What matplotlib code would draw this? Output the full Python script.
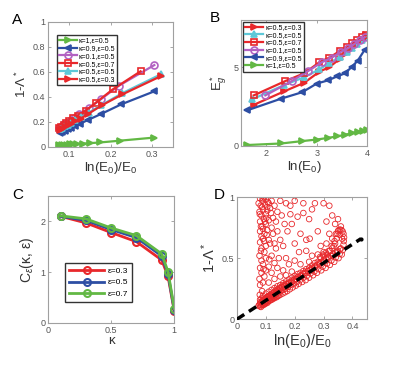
import matplotlib
matplotlib.use('Agg')
import matplotlib.pyplot as plt

plt.rcParams['font.family'] = ['Liberation Sans', 'DejaVu Sans']
plt.rcParams['mathtext.fontset'] = 'custom'
plt.rcParams['mathtext.rm'] = 'Liberation Sans'
plt.rcParams['mathtext.it'] = 'Liberation Sans:italic'

# ---- panel A: 1-Lambda* vs ln(E0)/E0
a_labels = ['κ=1,ε=0.5', 'κ=0.9,ε=0.5', 'κ=0.1,ε=0.5', 'κ=0.5,ε=0.7', 'κ=0.5,ε=0.5', 'κ=0.5,ε=0.3']
a_x = [
    [0.077, 0.083, 0.089, 0.095, 0.102, 0.11, 0.12, 0.133, 0.15, 0.175, 0.222, 0.305],
    [0.078, 0.084, 0.09, 0.097, 0.105, 0.115, 0.127, 0.145, 0.178, 0.225, 0.305],
    [0.077, 0.083, 0.089, 0.096, 0.104, 0.113, 0.125, 0.148, 0.178, 0.22, 0.305],
    [0.077, 0.082, 0.088, 0.094, 0.101, 0.11, 0.121, 0.14, 0.165, 0.205, 0.272],
    [0.078, 0.084, 0.09, 0.097, 0.105, 0.115, 0.128, 0.148, 0.178, 0.228, 0.32],
    [0.078, 0.084, 0.09, 0.097, 0.105, 0.115, 0.128, 0.145, 0.18, 0.228, 0.32],
]
a_y = [
    [0.015, 0.016, 0.017, 0.018, 0.02, 0.022, 0.024, 0.027, 0.03, 0.036, 0.05, 0.075],
    [0.114, 0.123, 0.131, 0.141, 0.153, 0.168, 0.186, 0.215, 0.265, 0.34, 0.445],
    [0.15, 0.165, 0.18, 0.195, 0.215, 0.235, 0.265, 0.31, 0.385, 0.49, 0.655],
    [0.15, 0.162, 0.176, 0.19, 0.206, 0.228, 0.25, 0.29, 0.355, 0.46, 0.605],
    [0.14, 0.152, 0.164, 0.178, 0.193, 0.212, 0.236, 0.275, 0.335, 0.43, 0.58],
    [0.135, 0.147, 0.159, 0.172, 0.186, 0.204, 0.227, 0.262, 0.335, 0.42, 0.565],
]

# ---- panel B: Eg* vs ln(E0)
b_labels = ['κ=0.5,ε=0.3', 'κ=0.5,ε=0.5', 'κ=0.5,ε=0.7', 'κ=0.1,ε=0.5', 'κ=0.9,ε=0.5', 'κ=1,ε=0.5']
b_x = [
    [1.75, 2.35, 2.75, 3.05, 3.25, 3.45, 3.6, 3.7, 3.8, 3.9, 3.97],
    [1.72, 2.35, 2.75, 3.05, 3.25, 3.45, 3.6, 3.7, 3.8, 3.9, 3.97],
    [1.75, 2.37, 2.75, 3.05, 3.25, 3.45, 3.6, 3.7, 3.8, 3.9, 3.97],
    [1.98, 2.5, 2.83, 3.1, 3.3, 3.47, 3.62, 3.74, 3.85, 3.95],
    [1.62, 2.3, 2.71, 3.0, 3.22, 3.4, 3.56, 3.69, 3.81, 3.95],
    [1.62, 2.3, 2.71, 3.0, 3.22, 3.4, 3.56, 3.69, 3.81, 3.91, 3.99],
]
b_y = [
    [2.6, 3.45, 4.0, 4.7, 5.0, 5.5, 5.9, 6.2, 6.5, 6.8, 7.0],
    [2.95, 3.85, 4.35, 4.85, 5.25, 5.65, 5.95, 6.2, 6.45, 6.7, 6.9],
    [3.2, 4.1, 4.6, 5.3, 5.6, 6.0, 6.3, 6.5, 6.7, 6.9, 7.0],
    [3.2, 4.1, 4.75, 5.3, 5.6, 5.95, 6.2, 6.45, 6.7, 6.9],
    [2.25, 3.0, 3.4, 3.95, 4.15, 4.4, 4.6, 5.0, 5.4, 6.1],
    [0.05, 0.15, 0.3, 0.4, 0.5, 0.6, 0.7, 0.8, 0.9, 0.95, 1.0],
]

# ---- panel C
kappa = [0.1, 0.3, 0.5, 0.7, 0.9, 0.95, 1.0]
c_labels = ['ε=0.3', 'ε=0.5', 'ε=0.7']
c_vals = [
    [2.1, 1.97, 1.78, 1.6, 1.24, 0.92, 0.23],
    [2.1, 2.02, 1.84, 1.68, 1.32, 0.97, 0.25],
    [2.11, 2.05, 1.87, 1.72, 1.36, 1.01, 0.28],
]

# ---- panel D: scattered points
d_x = [0.075, 0.078, 0.080, 0.082, 0.085, 0.086, 0.088, 0.090, 0.092, 0.094, 0.095, 0.097, 0.099, 0.100, 0.102, 0.104,
       0.105, 0.107, 0.109, 0.110, 0.112, 0.114, 0.116, 0.118, 0.12, 0.122, 0.124, 0.126, 0.128, 0.13, 0.132, 0.134,
       0.136, 0.138, 0.14, 0.143, 0.145, 0.147, 0.15, 0.152, 0.155, 0.158, 0.16, 0.163, 0.166, 0.168, 0.171, 0.174,
       0.177, 0.18, 0.183, 0.186, 0.19, 0.193, 0.196, 0.2, 0.204, 0.207, 0.21, 0.214, 0.218, 0.222, 0.226, 0.23,
       0.234, 0.238, 0.242, 0.246, 0.25, 0.255, 0.26, 0.264, 0.268, 0.272, 0.277, 0.282, 0.287, 0.292, 0.297, 0.302,
       0.307, 0.312, 0.317, 0.322, 0.327, 0.332, 0.337, 0.342, 0.347, 0.352, 0.356, 0.36, 0.363, 0.366, 0.369, 0.37,
       0.371, 0.369, 0.366, 0.362, 0.357, 0.352, 0.348, 0.345, 0.34, 0.335, 0.33, 0.322, 0.312, 0.3, 0.29, 0.28,
       0.27, 0.26, 0.25, 0.24, 0.23, 0.22, 0.21, 0.2, 0.19, 0.18, 0.17, 0.16, 0.15, 0.14, 0.13, 0.12,
       0.11, 0.1, 0.09, 0.085, 0.08, 0.083, 0.091, 0.098, 0.106, 0.113, 0.121, 0.128, 0.137, 0.144, 0.079, 0.087,
       0.081, 0.089, 0.096, 0.103, 0.111, 0.119, 0.127, 0.135, 0.142, 0.149, 0.157, 0.165, 0.173, 0.181, 0.189, 0.197,
       0.205, 0.213, 0.221, 0.229, 0.237, 0.245, 0.253, 0.261, 0.269, 0.277, 0.285, 0.293, 0.301, 0.309, 0.317, 0.325,
       0.333, 0.341, 0.349, 0.357, 0.364, 0.356, 0.35, 0.343, 0.338, 0.328, 0.318, 0.308, 0.298, 0.288,
       # left column
       0.08, 0.09, 0.078, 0.095, 0.085, 0.1, 0.08, 0.09, 0.11, 0.085, 0.1, 0.078, 0.095, 0.12, 0.085, 0.1,
       0.08, 0.09, 0.11, 0.13, 0.095, 0.08, 0.105, 0.12, 0.088, 0.1, 0.08, 0.093, 0.11, 0.125, 0.085, 0.1,
       0.078, 0.09, 0.105, 0.115, 0.082, 0.097, 0.11, 0.088, 0.1, 0.08, 0.093, 0.12, 0.13, 0.14, 0.135, 0.125,
       0.14, 0.135, 0.13, 0.12, 0.14, 0.11, 0.13, 0.115, 0.085, 0.105, 0.075, 0.118, 0.09, 0.102, 0.083, 0.112,
       0.092, 0.087, 0.097, 0.083, 0.107, 0.079, 0.094, 0.089, 0.103,
       # interior
       0.15, 0.16, 0.145, 0.175, 0.19, 0.21, 0.185, 0.23, 0.26, 0.25, 0.215, 0.24, 0.252, 0.2, 0.17, 0.18,
       0.16, 0.2, 0.28, 0.31, 0.33, 0.34, 0.3, 0.27, 0.32, 0.35, 0.29, 0.32, 0.36, 0.17, 0.2, 0.23,
       0.15, 0.185, 0.155, 0.165, 0.22, 0.24, 0.26, 0.31, 0.33, 0.3, 0.28, 0.19, 0.22, 0.15, 0.17, 0.25]
d_y = [0.11, 0.12, 0.105, 0.13, 0.115, 0.14, 0.125, 0.15, 0.12, 0.135, 0.16, 0.13, 0.145, 0.17, 0.14, 0.155,
       0.18, 0.145, 0.165, 0.19, 0.155, 0.17, 0.2, 0.16, 0.18, 0.21, 0.17, 0.19, 0.22, 0.175, 0.2, 0.235,
       0.185, 0.21, 0.245, 0.19, 0.22, 0.255, 0.2, 0.23, 0.265, 0.21, 0.24, 0.28, 0.22, 0.25, 0.29, 0.23,
       0.265, 0.3, 0.245, 0.28, 0.315, 0.26, 0.29, 0.33, 0.275, 0.305, 0.345, 0.29, 0.32, 0.36, 0.305, 0.34,
       0.38, 0.32, 0.355, 0.395, 0.34, 0.375, 0.41, 0.36, 0.39, 0.43, 0.38, 0.41, 0.45, 0.4, 0.43, 0.47,
       0.42, 0.455, 0.5, 0.445, 0.48, 0.52, 0.47, 0.505, 0.55, 0.5, 0.535, 0.58, 0.53, 0.565, 0.61, 0.64,
       0.67, 0.7, 0.72, 0.73, 0.735, 0.73, 0.7, 0.66, 0.62, 0.6, 0.58, 0.56, 0.53, 0.52, 0.5, 0.47,
       0.46, 0.44, 0.42, 0.41, 0.395, 0.38, 0.37, 0.355, 0.34, 0.325, 0.31, 0.295, 0.28, 0.27, 0.255, 0.24,
       0.225, 0.21, 0.19, 0.17, 0.16, 0.1, 0.115, 0.125, 0.135, 0.15, 0.16, 0.17, 0.18, 0.195, 0.2, 0.23,
       0.14, 0.155, 0.165, 0.18, 0.19, 0.2, 0.21, 0.225, 0.235, 0.25, 0.26, 0.27, 0.285, 0.295, 0.305, 0.32,
       0.33, 0.345, 0.355, 0.37, 0.38, 0.395, 0.405, 0.42, 0.43, 0.445, 0.46, 0.47, 0.485, 0.495, 0.51, 0.52,
       0.535, 0.545, 0.56, 0.575, 0.66, 0.69, 0.72, 0.7, 0.64, 0.6, 0.56, 0.545, 0.53, 0.51,
       # left column
       0.28, 0.3, 0.33, 0.35, 0.38, 0.4, 0.42, 0.45, 0.43, 0.48, 0.5, 0.52, 0.55, 0.52, 0.58, 0.6,
       0.63, 0.66, 0.65, 0.62, 0.7, 0.72, 0.73, 0.75, 0.76, 0.78, 0.8, 0.82, 0.81, 0.83, 0.85, 0.86,
       0.88, 0.9, 0.89, 0.91, 0.93, 0.94, 0.95, 0.97, 0.98, 0.99, 1.0, 0.97, 0.93, 0.88, 0.8, 0.7,
       0.72, 0.58, 0.46, 0.38, 0.42, 0.3, 0.33, 0.62, 0.68, 0.92, 0.95, 0.87, 0.74, 0.83, 0.56, 0.49,
       0.41, 0.92, 0.8, 0.76, 0.96, 0.86, 0.64, 0.99, 0.69,
       # interior
       0.65, 0.6, 0.5, 0.72, 0.78, 0.84, 0.86, 0.87, 0.9, 0.82, 0.55, 0.65, 0.66, 0.62, 0.5, 0.45,
       0.4, 0.48, 0.72, 0.8, 0.85, 0.78, 0.95, 0.95, 0.93, 0.82, 0.6, 0.7, 0.76, 0.95, 0.97, 0.95,
       0.97, 0.93, 0.85, 0.78, 0.7, 0.56, 0.52, 0.62, 0.66, 0.55, 0.53, 0.39, 0.45, 0.35, 0.36, 0.47]
line_x = [0.0, 0.43]
line_y = [0.0, 0.66]

red = '#e8282b'
blue = '#2d4ea3'
purple = '#b262c2'
cyan = '#5ec8d8'
green = '#62b844'
tick_c = '#555555'
lab_c = '#333333'

a_styles = [(green, '>', True), (blue, '<', True), (purple, 'o', False),
            (red, 's', False), (cyan, '^', True), (red, '>', True)]
b_styles = [(red, '>', True), (cyan, '^', True), (red, 's', False),
            (purple, 'o', False), (blue, '<', True), (green, '>', True)]

fig = plt.figure(figsize=(4.15, 3.72), dpi=100)
axA = fig.add_axes([0.116, 0.605, 0.301, 0.336])
axB = fig.add_axes([0.581, 0.608, 0.304, 0.339])
axC = fig.add_axes([0.116, 0.132, 0.304, 0.341])
axD = fig.add_axes([0.571, 0.142, 0.313, 0.328])


def style(ax):
    for s in ax.spines.values():
        s.set_color('#a0a0a0')
        s.set_linewidth(0.8)
    ax.tick_params(direction='in', length=2.5, width=0.6, labelsize=6.5, colors='#999999', labelcolor=tick_c,
                   top=True, right=True, pad=2)


leg_kw = dict(fontsize=5, handlelength=2.6, handletextpad=0.3, labelspacing=0.1,
              borderpad=0.3, fancybox=False, edgecolor='#333333', framealpha=1)

for i in range(6):
    c, m, filled = a_styles[i]
    axA.plot(a_x[i], a_y[i], color=c, marker=m, ms=5, lw=1.6,
             mfc=c if filled else 'none', mew=1.2, label=a_labels[i])
axA.set_xlim(0.05, 0.35)
axA.set_ylim(0, 1)
axA.set_xticks([0.1, 0.2, 0.3])
axA.set_yticks([0, 0.2, 0.4, 0.6, 0.8, 1])
axA.set_yticklabels(['0', '0.2', '0.4', '0.6', '0.8', '1'])
axA.set_xlabel('ln(E$_0$)/E$_0$', fontsize=9.5, labelpad=1, color=lab_c)
axA.set_ylabel('1-Λ$^*$', fontsize=9.5, labelpad=3, color=lab_c)
axA.legend(loc='upper left', bbox_to_anchor=(0.04, 0.92), **leg_kw)
style(axA)

for i in range(6):
    c, m, filled = b_styles[i]
    axB.plot(b_x[i], b_y[i], color=c, marker=m, ms=5, lw=1.6,
             mfc=c if filled else 'none', mew=1.2, label=b_labels[i])
axB.set_xlim(1.5, 4)
axB.set_ylim(0, 8)
axB.set_xticks([2, 3, 4])
axB.set_yticks([0, 5])
axB.set_xlabel('ln(E$_0$)', fontsize=9.5, labelpad=1, color=lab_c)
axB.set_ylabel('E$_g^*$', fontsize=9.5, labelpad=3, color=lab_c)
axB.legend(loc='upper left', bbox_to_anchor=(-0.01, 1.01), **leg_kw)
style(axB)

for vals, c, lab in zip(c_vals, [red, blue, green], c_labels):
    axC.plot(kappa, vals, color=c, marker='o', ms=5, lw=2, mfc='none', mew=1.5, label=lab)
axC.set_xlim(0, 1)
axC.set_ylim(0, 2.5)
axC.set_xticks([0, 0.5, 1])
axC.set_xticklabels(['0', '0.5', '1'])
axC.set_yticks([0, 1, 2])
axC.set_xlabel('κ', fontsize=9.5, labelpad=0, color=lab_c)
axC.set_ylabel('C$_ε$(κ, ε)', fontsize=10, labelpad=3, color=lab_c)
axC.legend(loc='lower left', fontsize=6, handlelength=4.2, handletextpad=0.4, labelspacing=0.45,
           borderpad=0.5, fancybox=False, edgecolor='#333333', framealpha=1,
           bbox_to_anchor=(0.1, 0.13))
style(axC)

axD.scatter(d_x, d_y, s=16, facecolors='none', edgecolors=red, linewidths=0.6, zorder=2)
axD.plot(line_x, line_y, color='black', ls=(0, (2.5, 1.6)), lw=2.5, marker='.', ms=4, zorder=3)
axD.set_xlim(0, 0.45)
axD.set_ylim(0, 1)
axD.set_xticks([0, 0.1, 0.2, 0.3, 0.4])
axD.set_xticklabels(['0', '0.1', '0.2', '0.3', '0.4'])
axD.set_yticks([0, 0.5, 1])
axD.set_yticklabels(['0', '0.5', '1'])
axD.set_xlabel('ln(E$_0$)/E$_0$', fontsize=10.5, labelpad=1, color=lab_c)
axD.set_ylabel('1-Λ$^*$', fontsize=10.5, labelpad=3, color=lab_c)
style(axD)

for lab, x, y in [('A', 0.03, 0.965), ('B', 0.505, 0.97), ('C', 0.03, 0.495), ('D', 0.515, 0.495)]:
    fig.text(x, y, lab, fontsize=11, va='top', ha='left')

fig.savefig('out.png', dpi=100)
